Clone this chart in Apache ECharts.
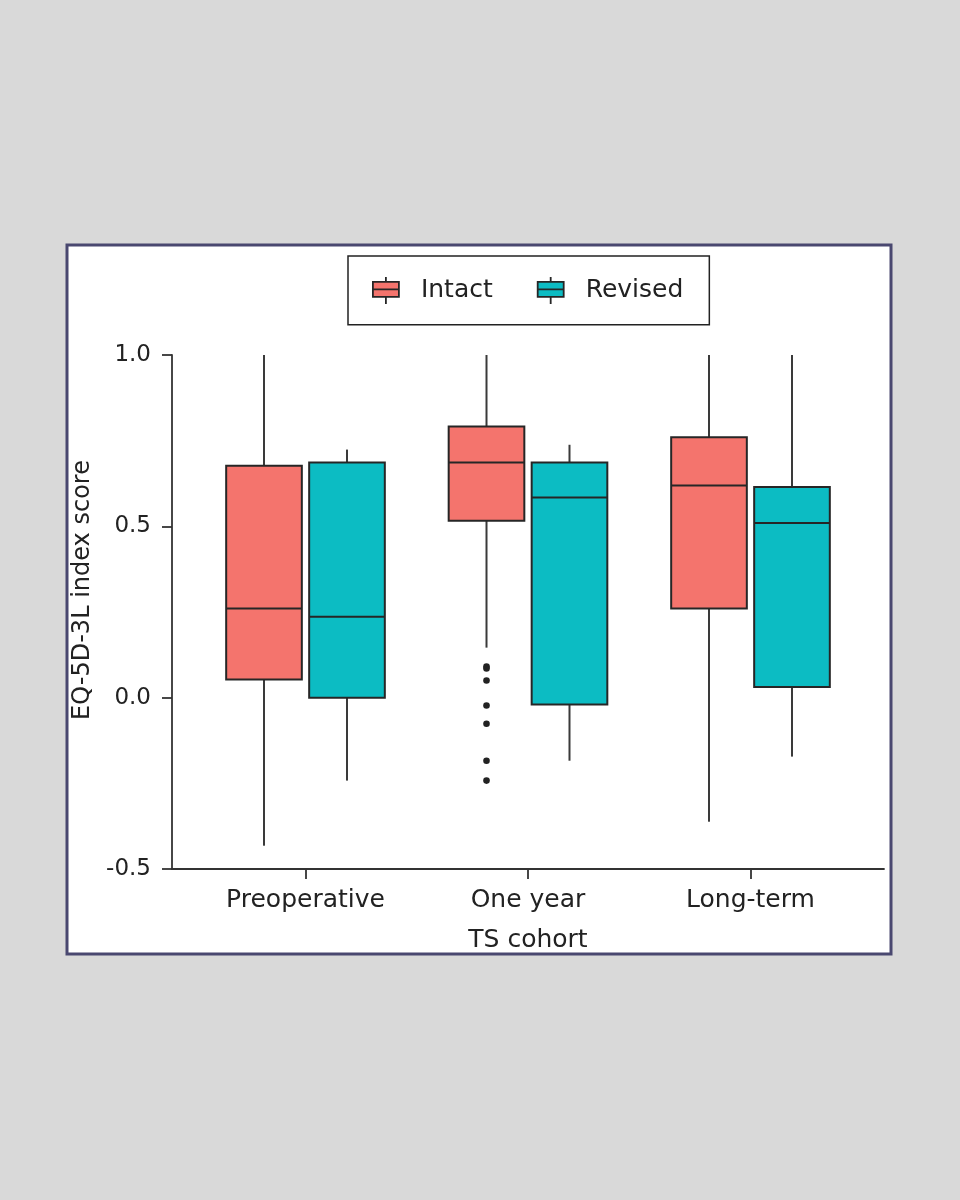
<!DOCTYPE html>
<html>
<head>
<meta charset="utf-8">
<title>EQ-5D-3L index score by TS cohort</title>
<script src="https://cdn.jsdelivr.net/npm/echarts@6/dist/echarts.min.js"></script>
<style>
  html, body { margin: 0; padding: 0; background: #d9d9d9; }
  #chart { width: 960px; height: 1200px; }
</style>
</head>
<body>
<div id="chart"></div>
<script>
// categories on the x axis
const categories = ['Preoperative', 'One year', 'Long-term'];
const seriesNames = ['Intact', 'Revised'];

// [min, Q1, median, Q3, max] per category
const intactStats = [
    [-0.432, 0.053, 0.260, 0.677, 1.000],
    [0.146, 0.516, 0.686, 0.791, 1.000],
    [-0.362, 0.260, 0.619, 0.760, 1.000]
];
const revisedStats = [
    [-0.242, 0.000, 0.236, 0.686, 0.724],
    [-0.184, -0.020, 0.584, 0.686, 0.738],
    [-0.172, 0.031, 0.510, 0.615, 1.000]
];

// outliers: [category index, value]
const intactOutliers = [
    [1, 0.091], [1, 0.085], [1, 0.050], [1, -0.023],
    [1, -0.076], [1, -0.184], [1, -0.242]
];

const yTicks = [-0.5, 0, 0.5, 1.0];

const colors = { Intact: '#f4746d', Revised: '#0cbcc3' };
const boxOffset = 0.1865;   // in category units
const boxWidth = 0.34;
const lineColor = '#333333';
const font = 'DejaVu Sans';

function boxSeries(name, stats, offset) {
    return {
        name: name,
        type: 'custom',
        itemStyle: { color: colors[name], borderColor: lineColor, borderWidth: 2 },
        data: stats.map((s, i) => [i].concat(s)),
        renderItem: function (params, api) {
            const x = api.value(0) + offset;
            const pMin = api.coord([x, api.value(1)]);
            const pQ1 = api.coord([x, api.value(2)]);
            const pMed = api.coord([x, api.value(3)]);
            const pQ3 = api.coord([x, api.value(4)]);
            const pMax = api.coord([x, api.value(5)]);
            const half = api.size([boxWidth, 0])[0] / 2;
            const lineStyle = { stroke: '#3a3a3a', lineWidth: 2 };
            return {
                type: 'group',
                children: [
                    { type: 'line', shape: { x1: pMax[0], y1: pMax[1], x2: pQ3[0], y2: pQ3[1] }, style: lineStyle },
                    { type: 'line', shape: { x1: pQ1[0], y1: pQ1[1], x2: pMin[0], y2: pMin[1] }, style: lineStyle },
                    {
                        type: 'rect',
                        shape: { x: pQ3[0] - half, y: pQ3[1], width: half * 2, height: pQ1[1] - pQ3[1] },
                        style: { fill: colors[name], stroke: '#262626', lineWidth: 2 }
                    },
                    { type: 'line', shape: { x1: pMed[0] - half, y1: pMed[1], x2: pMed[0] + half, y2: pMed[1] }, style: { stroke: '#262626', lineWidth: 2 } }
                ]
            };
        },
        z: 3
    };
}

const legendIcon = 'path://M0,5 L26,5 L26,20 L0,20 Z M0,12.5 L26,12.5 M13,0 L13,5 M13,20 L13,27';

function initChart() {
    const myChart = echarts.init(document.getElementById('chart'), null, { renderer: 'canvas' });

    const option = {
        backgroundColor: '#d9d9d9',
        animation: false,
        graphic: [{
            type: 'rect',
            shape: { x: 67, y: 245, width: 824, height: 709 },
            style: { fill: '#ffffff', stroke: '#4a4870', lineWidth: 3 },
            z: -10
        }],
        legend: {
            left: 348,
            top: 256,
            orient: 'horizontal',
            padding: [20, 26, 20, 24],
            itemGap: 44,
            itemWidth: 26,
            itemHeight: 27,
            borderColor: '#222222',
            borderWidth: 1.5,
            backgroundColor: '#ffffff',
            textStyle: { fontFamily: font, fontSize: 25, color: '#222222', padding: [0, 0, 0, 17] },
            data: seriesNames.map(n => ({
                name: n,
                icon: legendIcon,
                itemStyle: { color: colors[n], borderColor: '#262626', borderWidth: 1.8 }
            }))
        },
        grid: { left: 172, right: 76, top: 355, bottom: 331, containLabel: false },
        xAxis: {
            type: 'value',
            min: -0.6,
            max: 2.6,
            splitLine: { show: false },
            axisLine: { show: true, onZero: false, lineStyle: { color: lineColor, width: 1.8 } },
            axisTick: { show: true, length: 10, customValues: [0, 1, 2], lineStyle: { color: lineColor, width: 1.8 } },
            axisLabel: {
                customValues: [0, 1, 2],
                formatter: v => categories[Math.round(v)] || '',
                fontFamily: font,
                fontSize: 25,
                color: '#222222',
                margin: 19
            },
            name: 'TS cohort',
            nameLocation: 'middle',
            nameGap: 59,
            nameTextStyle: { fontFamily: font, fontSize: 25, color: '#222222' }
        },
        yAxis: {
            type: 'value',
            min: -0.5,
            max: 1.0,
            interval: 0.5,
            splitLine: { show: false },
            axisLine: { show: true, onZero: false, lineStyle: { color: lineColor, width: 1.8 } },
            axisTick: { show: true, length: 10, lineStyle: { color: lineColor, width: 1.8 } },
            axisLabel: {
                formatter: v => yTicks.includes(v) ? v.toFixed(1) : '',
                fontFamily: font,
                fontSize: 23,
                color: '#222222',
                margin: 21
            },
            name: 'EQ-5D-3L index score',
            nameLocation: 'middle',
            nameGap: 66,
            nameTextStyle: { fontFamily: font, fontSize: 24, color: '#222222', padding: [0, 0, 0, 44] }
        },
        series: [
            boxSeries('Intact', intactStats, -boxOffset),
            boxSeries('Revised', revisedStats, boxOffset),
            {
                name: 'Intact',
                type: 'custom',
                data: intactOutliers,
                renderItem: function (params, api) {
                    const p = api.coord([api.value(0) - boxOffset, api.value(1)]);
                    return { type: 'circle', shape: { cx: p[0], cy: p[1], r: 3.3 }, style: { fill: '#222222' } };
                },
                z: 4
            }
        ]
    };

    myChart.setOption(option);
}

window.onload = initChart;
</script>
</body>
</html>
